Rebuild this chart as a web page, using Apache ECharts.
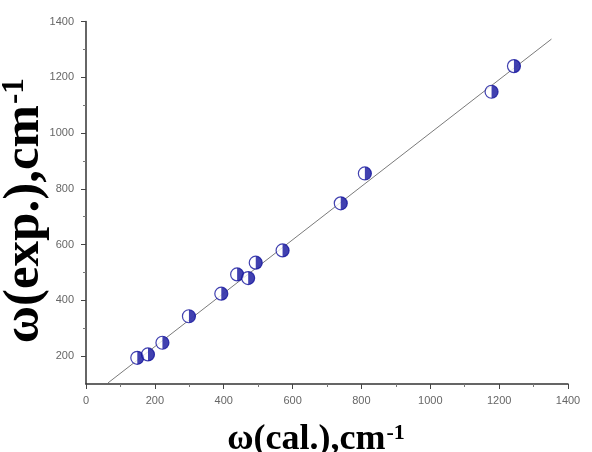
<!DOCTYPE html>
<html>
<head>
<meta charset="utf-8">
<script src="https://cdn.jsdelivr.net/npm/echarts@6/dist/echarts.min.js"></script>
<style>html,body{margin:0;padding:0;background:#fff}#c{width:592px;height:452px}</style>
</head>
<body>
<div id="c"></div>
<script>
// Data
const calValues = [149, 180, 222, 299, 393, 439, 471, 493, 571, 740, 810, 1178, 1243];
const expValues = [194, 206, 248, 343, 424, 493, 480, 535, 579, 748, 855, 1148, 1240];
const fitX = [64, 1352];
const fitY = [104, 1337];
const xTicks = [0, 200, 400, 600, 800, 1000, 1200, 1400];
const yTicks = [200, 400, 600, 800, 1000, 1200, 1400];
const yMinorTicks = [300, 500, 700, 900, 1100, 1300];

const points = calValues.map((x, i) => [x, expValues[i]]);
const fitLine = fitX.map((x, i) => [x, fitY[i]]);

const blue = '#12129c';
const labelStyle = { color: '#666', fontSize: 11, fontFamily: 'Liberation Sans, Arial, sans-serif', formatter: v => String(v) };
function nameStyle(size, padding) {
  return {
    fontFamily: 'Liberation Serif, Times New Roman, serif', fontWeight: 'bold', fontSize: size, color: '#000',
    lineHeight: size, padding: padding,
    rich: { sup: { fontFamily: 'Liberation Serif, serif', fontWeight: 'bold', fontSize: Math.round(size * 0.6), color: '#000', verticalAlign: 'top', lineHeight: size, padding: [0, 0, Math.round(size * 0.45), 1] } }
  };
}

const chart = echarts.init(document.getElementById('c'));
chart.setOption({
  animation: false,
  grid: { left: 86, right: 24, top: 21.5, bottom: 68, outerBoundsMode: 'none', containLabel: false },
  xAxis: {
    type: 'value', min: 0, max: 1400, interval: 200,
    name: 'ω(cal.),cm{sup|-1}', nameLocation: 'middle', nameGap: 38, nameMoveOverlap: false, nameTextStyle: nameStyle(36, [0, 22, 0, 0]),
    axisLine: { show: true, lineStyle: { color: '#333', width: 1.5 } },
    axisTick: { show: true, inside: false, length: 5, lineStyle: { color: '#444' } },
    minorTick: { show: true, splitNumber: 2, length: 3, lineStyle: { color: '#777' } },
    axisLabel: Object.assign({ margin: 11 }, labelStyle, { customValues: xTicks }),
    splitLine: { show: false }
  },
  yAxis: [{
    type: 'value', min: 100, max: 1400, interval: 100,
    name: 'ω(exp.),cm{sup|-1}', nameLocation: 'middle', nameGap: 36, nameMoveOverlap: false, nameTextStyle: nameStyle(51, [0, 16, 0, 0]),
    axisLine: { show: true, lineStyle: { color: '#333', width: 1.5 } },
    axisTick: { show: true, length: 5, lineStyle: { color: '#444' }, customValues: yTicks },
    axisLabel: Object.assign({ margin: 12 }, labelStyle, { customValues: yTicks }),
    splitLine: { show: false }
  }, {
    type: 'value', min: 100, max: 1400, interval: 100, position: 'left',
    axisLine: { show: false },
    axisTick: { show: true, length: 3, lineStyle: { color: '#777' }, customValues: yMinorTicks },
    axisLabel: { show: false },
    splitLine: { show: false }
  }],
  series: [{
    type: 'line', data: fitLine, symbol: 'none', clip: false,
    lineStyle: { color: '#7a7a7a', width: 1 }, z: 1
  }, {
    type: 'scatter', data: points, symbol: 'circle', symbolSize: 13,
    itemStyle: { color: '#fff', borderColor: blue, borderWidth: 1.2 }, z: 2
  }, {
    type: 'scatter', data: points, symbol: 'path://M0,0 A10,10 0 0,1 0,20 Z', symbolSize: [6.5, 13], symbolOffset: [3.25, 0],
    itemStyle: { color: blue }, z: 3
  }]
});
</script>
</body>
</html>
